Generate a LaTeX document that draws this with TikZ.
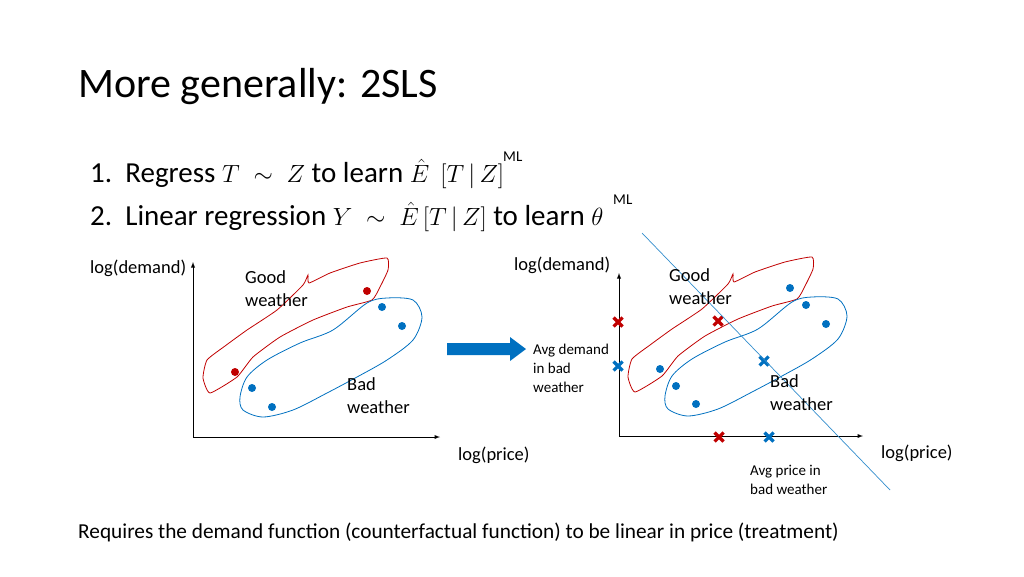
\documentclass[tikz,border=0pt]{standalone}
\usepackage{fontspec}
\setmainfont{Carlito}
\usepackage{amsmath}
\begin{document}
\begin{tikzpicture}[x=1pt,y=-1pt,
  lbl/.style={anchor=west,inner sep=0pt,font=\fontsize{18.5}{23}\selectfont,align=left},
  sml/.style={anchor=west,inner sep=0pt,font=\fontsize{15}{19}\selectfont,align=left},
  ax/.style={-latex,line width=0.9pt},
  redb/.style={line width=0.8pt},
  blueb/.style={line width=0.8pt},
  dot/.style={circle,inner sep=0pt,minimum size=8pt},
  crs/.style={line width=3.2pt},
]
\useasboundingbox (0,0) rectangle (1024,576);
\definecolor{rc}{RGB}{192,0,0}
\definecolor{bc}{RGB}{0,112,192}
\node[anchor=west,inner sep=0pt,font=\fontsize{42}{46}\selectfont] (title) at (78,87) {More generally: 2SLS};
\node[anchor=west,inner sep=0pt,font=\fontsize{29}{34}\selectfont] (l1) at (90,174) {1.\ \ Regress $T\;\sim\; Z$ to learn $\hat{E}\;\,[T\,|\,Z]$};
\node[anchor=west,inner sep=0pt,font=\fontsize{29}{34}\selectfont] (l2) at (90,217) {2.\ \ Linear regression $Y\;\sim\; \hat{E}\,[T\,|\,Z]$ to learn $\theta$};
\node[anchor=west,inner sep=0pt,font=\fontsize{15}{16}\selectfont] (ml1) at (503,157) {ML};
\node[anchor=west,inner sep=0pt,font=\fontsize{15}{16}\selectfont] (ml2) at (613,200) {ML};
\node[anchor=west,inner sep=0pt,font=\fontsize{21.3}{24}\selectfont] (req) at (78,532) {Requires the demand function (counterfactual function) to be linear in price (treatment)};

% left panel
\coordinate (o1) at (193,437);
\coordinate (y1) at (193,262);
\coordinate (x1) at (440,437);
\draw[ax] (o1) -- (y1);
\draw[ax] (o1) -- (x1);
\draw[redb,draw=rc] plot[smooth cycle,tension=0.3] coordinates {(210,393) (203,378) (207,360) (225,346) (247,330) (277,310) (303,285) (308,275) (309,283) (330,273) (360,263) (387,258) (388,270) (380,287) (372,300) (347,307) (313,320) (280,337) (253,357) (237,377)};
\draw[blueb,draw=bc] plot[smooth cycle,tension=0.5] coordinates {(240,397) (247,377) (267,360) (300,343) (333,330) (367,303) (387,298) (413,300) (422,317) (413,340) (387,360) (357,377) (327,393) (293,410) (263,417) (243,410)};
\foreach \p in {(367,291),(235,372)} \node[dot,fill=rc] at \p {};
\foreach \p in {(252,388),(272,407),(382,307),(402,326)} \node[dot,fill=bc] at \p {};
\node[lbl] (gw1) at (245,289) {Good\\weather};
\node[lbl] (bw1) at (347,396) {Bad\\weather};
\node[lbl] (ld1) at (90,268) {log(demand)};
\node[lbl] (lp1) at (458,455) {log(price)};

% arrow
\fill[bc] (447,343) -- (510,343) -- (510,337) -- (526,349) -- (510,361) -- (510,355) -- (447,355) -- cycle;

% right panel
\coordinate (o2) at (619,436);
\coordinate (y2) at (619,273);
\coordinate (x2) at (863,436);
\draw[ax] (o2) -- (y2);
\draw[ax] (o2) -- (x2);
\begin{scope}[shift={(425,-1)}]
\draw[redb,draw=rc] plot[smooth cycle,tension=0.3] coordinates {(210,393) (203,378) (207,360) (225,346) (247,330) (277,310) (303,285) (308,275) (309,283) (330,273) (360,263) (387,258) (388,270) (380,287) (372,300) (347,307) (313,320) (280,337) (253,357) (237,377)};
\draw[blueb,draw=bc] plot[smooth cycle,tension=0.5] coordinates {(240,397) (247,377) (267,360) (300,343) (333,330) (367,303) (387,298) (413,300) (422,317) (413,340) (387,360) (357,377) (327,393) (293,410) (263,417) (243,410)};
\end{scope}
\foreach \p in {(790,288),(806,305),(826,324),(660,369),(676,386),(696,404)} \node[dot,fill=bc] at \p {};
\foreach \x/\y/\c in {618/322/rc,718/321/rc,719/437/rc,618/366/bc,764/361/bc,769/437/bc}
  \draw[crs,draw=\c] (\x-4.5,\y-4.5) -- (\x+4.5,\y+4.5) (\x-4.5,\y+4.5) -- (\x+4.5,\y-4.5);
\coordinate (la) at (642,233);
\coordinate (lb) at (890,490);
\draw[bc!80,line width=0.7pt] (la) -- (lb);
\node[lbl] (ld2) at (514,265) {log(demand)};
\node[lbl] (gw2) at (669,287) {Good\\weather};
\node[lbl] (bw2) at (770,393) {Bad\\weather};
\node[lbl] (lp2) at (881,453) {log(price)};
\node[sml] (ad) at (533,368) {Avg demand\\in bad\\weather};
\node[sml] (ap) at (750,480) {Avg price in\\bad weather};
\end{tikzpicture}
\end{document}
